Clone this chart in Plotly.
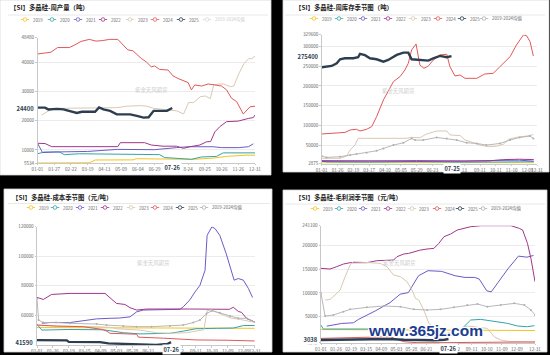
import plotly.graph_objects as go

W, H = 550, 355

SERIES_NAMES = ["2019", "2020", "2021", "2022", "2023", "2024", "2025", "2019-2024均值"]
COLORS = ["#f5c31c", "#35a3a8", "#6d5ac6", "#a0368b", "#d9c8b3", "#e05858", "#2c3e50", "#b0b0b0"]

# ---------------- Top-left: 周产量 ----------------
tl_ticktext = ["01-01", "01-27", "02-22", "03-19", "04-13", "05-09", "06-04", "06-29", "", "8-24", "09-25", "10-26", "11-26", "12-31"]
tl_tickpos = [0, 1, 2, 3, 4, 5, 6, 7, 8, 9, 10, 11, 12, 13]
tl_yticks = [5534, 10000, 20000, 30000, 40000, 48480]

tl_x_2019 = [0, 3.1, 3.45, 5.7, 5.9, 8.5, 9.3, 10.5, 11.3, 12.4, 13]
tl_y_2019 = [5534, 5600, 6560, 6600, 7000, 7000, 6800, 7200, 7800, 8200, 8200]
tl_x_2020 = [0, 0.4, 1.3, 1.6, 2.5, 7.3, 7.6, 8.7, 9.2, 9.8, 10.7, 11.1, 13]
tl_y_2020 = [8700, 9300, 9300, 8400, 8700, 8400, 7400, 7100, 6800, 7600, 7800, 9000, 9000]
tl_x_2021 = [0, 0.3, 1.0, 3.0, 4.8, 6.0, 7.0, 8.3, 9.0, 10.5, 11.0, 12.0, 12.6, 12.9]
tl_y_2021 = [12300, 9100, 9300, 9500, 10200, 10100, 10100, 10800, 11100, 11100, 10800, 10800, 11100, 12100]
tl_x_2022 = [0.0, 0.45, 0.85, 4.8, 4.95, 6.4, 6.8, 7.5, 8.3, 8.73, 9.1, 9.7, 10.1, 10.35, 10.6, 10.9, 11.3, 12.0, 12.6, 12.9, 13.0]
tl_y_2022 = [12300, 12200, 11130, 11130, 12500, 12500, 11700, 11300, 11300, 10560, 11100, 11700, 12800, 12900, 16200, 18000, 19700, 19900, 20800, 21100, 22000]
tl_x_2023 = [0.25, 0.75, 1.2, 3.24, 3.54, 3.94, 4.74, 5.34, 5.74, 6.14, 6.54, 6.94, 7.54, 7.93, 8.33, 8.73, 9.03, 9.33, 9.73, 10.03, 10.33, 10.53, 10.83, 11.13, 11.53, 11.73, 12.03, 12.33, 12.62, 12.82, 13.0]
tl_y_2023 = [21980, 23700, 24270, 24450, 24270, 24500, 24500, 25000, 25200, 25200, 25000, 24270, 23900, 23700, 23400, 22330, 26250, 26250, 28260, 28500, 27600, 32300, 32600, 32600, 31700, 31900, 36100, 39500, 41300, 41300, 42200]
tl_x_2024 = [0, 0.8, 1.2, 1.9, 2.2, 2.6, 3.1, 3.5, 3.9, 4.3, 4.8, 5.4, 5.7, 6.2, 6.5, 6.8, 7.0, 7.3, 7.8, 8.1, 8.4, 8.8, 9.0, 9.2, 9.4, 9.8, 10.2, 10.6, 11.0, 11.3, 11.6, 11.9, 12.3, 12.7, 13.0]
tl_y_2024 = [42900, 43500, 45100, 45100, 45900, 47200, 47900, 47300, 47500, 47900, 47900, 44300, 44000, 41400, 40200, 38500, 38800, 37600, 37400, 35400, 34500, 33400, 33100, 30600, 32300, 31900, 32600, 32300, 31900, 30600, 27700, 26600, 22300, 24800, 25000]
tl_x_2025 = [0, 0.45, 0.65, 1.15, 1.55, 1.95, 2.35, 2.65, 3.14, 3.44, 3.68, 3.94, 4.34, 4.74, 5.14, 5.54, 5.94, 6.34, 6.64, 6.94, 7.34, 7.74, 8.05]
tl_y_2025 = [24500, 24500, 23900, 24100, 23900, 23400, 22700, 23100, 23100, 23100, 24600, 23900, 23400, 22200, 22200, 22200, 21700, 21100, 21200, 23400, 23400, 23400, 24400]

# ---------------- Top-right: 周库存 ----------------
tr_ticktext = ["01-01", "01-26", "02-19", "03-17", "04-10", "05-05", "05-29", "06-23", "", "13", "09-11", "10-11", "11-10", "12-09", "12-31"]
tr_tickpos = [0, 1, 2, 3, 4, 5, 6, 7, 8, 9, 10, 11, 12, 13, 13.6]
tr_yticks = [2875, 50000, 100000, 150000, 200000, 250000, 300000, 329600]

tr_x_2019 = [0, 3, 6, 9, 12, 13.4]
tr_y_2019 = [4500, 5000, 5200, 5000, 4800, 4600]
tr_x_2020 = [0, 0.3, 3, 6, 9, 12, 13.4]
tr_y_2020 = [9500, 7000, 6500, 7500, 6500, 7000, 7500]
tr_x_2021 = [0, 3, 6, 9, 11, 12.5, 13.4]
tr_y_2021 = [10500, 9500, 10500, 9500, 11000, 11500, 9000]
tr_x_2022 = [0, 3, 6, 9, 10.5, 11.5, 12.5, 13.4]
tr_y_2022 = [8500, 9500, 8500, 8000, 9500, 13000, 14000, 13000]
tr_x_2023 = [0, 0.5, 1.16, 1.58, 1.8, 2.1, 2.3, 2.84, 5.37, 5.68, 6.2, 6.63, 7.26, 7.9, 8.1, 8.74, 9.05, 10.0, 10.53, 11.05, 11.47, 11.8, 12.3, 12.95, 13.37]
tr_y_2023 = [16300, 17000, 16300, 22000, 37400, 50100, 67000, 67000, 67000, 69500, 68500, 78000, 85600, 85600, 75500, 74000, 62800, 50100, 45800, 47000, 51800, 64500, 69500, 72900, 76300]
tr_x_2024 = [0, 0.5, 1.16, 1.47, 1.8, 2.2, 2.42, 2.84, 3.16, 3.47, 3.9, 4.2, 4.53, 4.95, 5.26, 5.47, 5.68, 5.96, 6.2, 6.46, 6.74, 7.05, 7.47, 7.9, 8.1, 8.42, 8.74, 9.05, 9.8, 10.3, 10.84, 11.26, 11.9, 12.3, 12.75, 12.95, 13.16, 13.37]
tr_y_2024 = [78000, 79000, 80500, 82000, 88200, 89900, 85600, 89900, 96700, 122000, 164400, 185500, 210900, 223600, 240500, 257400, 291200, 306400, 253200, 244700, 250600, 265800, 278500, 280200, 248800, 225100, 227700, 219200, 219200, 230200, 231900, 248800, 274100, 303700, 329600, 327000, 312200, 276000]
tr_x_2025 = [0, 0.63, 0.95, 1.16, 1.47, 2.0, 2.3, 2.42, 2.73, 3.05, 3.47, 3.9, 4.2, 4.74, 5.16, 5.47, 5.68, 6.2, 6.74, 7.05, 7.47, 7.9, 8.2]
tr_y_2025 = [247200, 250600, 257400, 267500, 270100, 270100, 272600, 281100, 278000, 270100, 267500, 261600, 265800, 278500, 284400, 284400, 267500, 265800, 264100, 270100, 276000, 272600, 275400]
tr_x_avg = [0, 0.3, 1.16, 1.8, 2.2, 2.84, 3.47, 3.9, 4.53, 5.16, 5.68, 5.9, 6.42, 7.26, 7.9, 8.53, 9.16, 9.8, 10.4, 11.26, 11.9, 12.5, 13.16, 13.37]
tr_y_avg = [22000, 18600, 20300, 24500, 27000, 30300, 35400, 41300, 49800, 55700, 66700, 62500, 62500, 69200, 66700, 62500, 55700, 54000, 49800, 54000, 62500, 69200, 72600, 66700]

# ---------------- Bottom-left: 成本 ----------------
bl_ticktext = ["01-01", "01-26", "02-19", "03-15", "04-09", "05-03", "05-28", "06-21", "", "2", "09-11", "10-10", "11-09", "12-09", "12-31"]
bl_tickpos = [0, 1, 2, 3, 4, 5, 6, 7, 8, 9.15, 10, 11, 12, 13, 13.7]
bl_yticks = [60000, 80000, 100000, 120000]

bl_x_2019 = [0, 4.5, 5, 13.7]
bl_y_2019 = [51500, 51500, 51000, 51000]
bl_x_2020 = [0, 0.05, 0.3, 2.0, 4.17, 5.43, 6.48, 7.9, 8.36, 9.2, 10.0, 11.3, 12.35, 13.0, 13.7]
bl_y_2020 = [54000, 53000, 49800, 50200, 50000, 48000, 47200, 47200, 47600, 49100, 50700, 51000, 51200, 52900, 52900]
bl_x_2021 = [0.3, 0.8, 2.07, 2.9, 3.75, 4.6, 5.2, 5.85, 6.27, 6.7, 7.9, 9.0, 9.2, 9.6, 9.94, 10.25, 10.57, 10.7, 11.0, 11.2, 11.5, 11.9, 12.4, 12.66, 12.98, 13.3, 13.56]
bl_y_2021 = [54400, 54900, 54900, 56200, 57400, 57800, 58000, 58800, 62200, 63400, 63900, 63900, 65600, 70100, 75700, 80200, 90400, 114100, 119900, 118700, 114100, 101700, 83700, 84800, 83700, 78000, 71900]
bl_x_2022 = [0, 0.4, 0.92, 2.07, 4.28, 4.7, 5.0, 5.53, 5.85, 6.27, 6.9, 9.6, 12.1, 12.35, 12.66, 12.87, 13.2, 13.5, 13.7]
bl_y_2022 = [72000, 70600, 74000, 74700, 74700, 70600, 67900, 67200, 65000, 63400, 64100, 64100, 63900, 65300, 62500, 61800, 57500, 56300, 55200]
bl_x_2023 = [0, 1.24, 3.75, 4.7, 5.0, 6.48, 7.5, 8.36, 9.4, 10.0, 10.5, 10.7, 11.0, 11.5, 12.2, 12.8, 13.7]
bl_y_2023 = [53200, 52500, 52100, 51600, 50700, 49800, 48000, 47600, 48000, 49100, 50000, 63000, 63500, 61000, 58000, 57000, 55000]
bl_x_2024 = [0, 1.24, 2.9, 4.07, 4.4, 4.6, 6.27, 6.37, 7.95, 9.0, 10.0, 12.0, 13.7]
bl_y_2024 = [53200, 52500, 52100, 50300, 49000, 47600, 47000, 45000, 44300, 43600, 43100, 42900, 42400]
bl_x_2025 = [0, 1.87, 2.0, 3.96, 4.5, 5.5, 6.4, 7.5, 8.2, 8.43]
bl_y_2025 = [43000, 42800, 41800, 41600, 40800, 40500, 39800, 39700, 40300, 41590]
bl_x_avg = [0, 0.1, 0.4, 1.2, 2.07, 3.75, 4.38, 5.43, 6.27, 7.2, 8.36, 9.2, 9.83, 10.25, 10.67, 11.0, 11.5, 12.14, 12.66, 13.2, 13.7]
bl_y_avg = [71300, 56600, 54900, 55000, 54400, 53900, 53200, 52500, 52100, 52100, 52500, 53200, 54900, 56600, 61100, 62900, 61500, 59300, 57800, 57800, 55200]

# ---------------- Bottom-right: 毛利润 ----------------
br_ticktext = ["01-01", "01-26", "02-19", "03-15", "04-09", "05-03", "05-28", "06-21", "", "2", "09-11", "10-10", "11-09", "12-09", "12-31"]
br_tickpos = [0, 1, 2, 3, 4, 5, 6, 7, 8, 9.15, 10, 11, 12, 13, 14.2]
br_yticks = [-5042, 50000, 100000, 150000, 200000, 241100]

br_x_2019 = [0, 5, 10, 14.2]
br_y_2019 = [23000, 22500, 22000, 21000]
br_x_2020 = [0, 0.15, 3.04, 4.38, 5.04, 5.93, 7.49, 8.38, 9.04, 9.49, 9.93, 10.6, 11.49, 12.38, 13.04, 13.7, 14.16]
br_y_2020 = [32500, 24100, 24100, 23400, 20600, 11500, 9400, 9400, 15000, 29000, 43000, 44400, 40900, 36000, 30400, 29000, 31100]
br_x_2021 = [0.38, 1.37, 2.15, 2.48, 3.59, 4.58, 5.25, 5.8, 6.0, 6.47, 7.1, 8.0, 8.9, 9.55, 10.2, 10.5, 11.0, 11.3, 11.75, 12.4, 13.1, 13.66, 14.1]
br_y_2021 = [30100, 35800, 37200, 44200, 61900, 79500, 97200, 100700, 111300, 136000, 146600, 145200, 136000, 132500, 132500, 129000, 104300, 102200, 122000, 150300, 177200, 175000, 178500]
br_x_2022 = [0, 0.6, 1.04, 1.49, 1.93, 3.04, 3.71, 4.38, 4.82, 5.04, 5.49, 5.82, 6.16, 6.6, 7.04, 7.49, 7.82, 8.16, 8.6, 9.04, 9.49, 9.93, 10.6, 12.6, 13.16, 13.38, 13.7, 13.93, 14.2]
br_y_2022 = [151500, 150100, 155000, 160600, 163400, 163400, 167600, 169000, 169000, 176000, 181600, 183000, 186500, 190000, 192100, 193500, 204000, 218000, 223600, 232000, 235500, 239000, 241100, 241100, 235500, 232000, 204000, 172500, 123500]
br_x_2023 = [0.27, 0.6, 0.93, 1.27, 1.6, 1.93, 2.16, 3.04, 3.93, 4.38, 4.82, 5.27, 5.71, 6.04, 6.27, 6.49, 6.82, 7.16, 7.49, 7.93, 8.38, 8.82, 9.27, 9.71, 10.16, 10.6, 11.04, 11.49, 11.93, 12.5, 13.5, 14.2]
br_y_2023 = [85000, 86400, 95500, 106000, 134000, 158500, 165500, 163400, 162000, 155000, 137500, 134000, 123500, 106000, 88500, 85000, 64000, 36000, 25500, 16400, 15000, 18500, 25500, 30400, 29000, 28000, 25500, 8000, 1000, -2000, -3000, -3500]
br_x_2024 = [0, 1.49, 3.04, 4.6, 5.04, 5.49, 6.38, 7.04, 8.5, 10, 12, 14.2]
br_y_2024 = [4500, 5900, 8000, 8000, 2400, -2500, -4600, -5042, -4500, -4000, -3500, -3000]
br_x_2025 = [0, 1.0, 2.0, 3.0, 4.5, 5.5, 6.5, 7.5, 8.2, 8.46]
br_y_2025 = [1000, 1500, 2500, 3000, 3200, 1500, 800, 600, 1500, 3038]
br_x_avg = [0, 0.27, 0.82, 1.49, 1.93, 3.04, 4.16, 5.27, 6.16, 7.04, 7.93, 8.82, 9.71, 10.38, 11.04, 11.93, 12.82, 13.49, 13.93, 14.2]
br_y_avg = [99000, 51400, 53500, 60500, 65400, 69600, 72400, 71000, 65400, 64000, 65400, 69600, 74500, 76600, 71000, 74500, 78000, 74500, 64000, 53500]

TITLES = ["【SI】多晶硅-周产量（吨）", "【SI】多晶硅-周库存季节图（吨）",
          "【SI】多晶硅-成本季节图（元/吨）", "【SI】多晶硅-毛利润季节图（元/吨）"]
POINTER_DATES = ["07-26", "07-25", "07-26", "07-26"]
WATERMARK = "紫金天风期货"

panels = [
    dict(series=[(tl_x_2019, tl_y_2019), (tl_x_2020, tl_y_2020), (tl_x_2021, tl_y_2021), (tl_x_2022, tl_y_2022),
                 (tl_x_2023, tl_y_2023), (tl_x_2024, tl_y_2024), (tl_x_2025, tl_y_2025), None],
         tickpos=tl_tickpos, ticktext=tl_ticktext, yticks=tl_yticks,
         px=(37.5, 255), py=(37.7, 163), xr=(0, 13), yr=(5534, 48480),
         card=(0, 0, 271, 175), title_xy=(8, 8), sep=(8, 15, 268),
         leg_x=[25, 52, 78, 103, 130, 155, 181, 207], leg_y=19.5, avg_off=True,
         wm=(133, 84), xlab_y=167.5),
    dict(series=[(tr_x_2019, tr_y_2019), (tr_x_2020, tr_y_2020), (tr_x_2021, tr_y_2021), (tr_x_2022, tr_y_2022),
                 (tr_x_2023, tr_y_2023), (tr_x_2024, tr_y_2024), (tr_x_2025, tr_y_2025), (tr_x_avg, tr_y_avg)],
         tickpos=tr_tickpos, ticktext=tr_ticktext, yticks=tr_yticks,
         px=(321.7, 537), py=(34.8, 163.6), xr=(0, 13.6), yr=(2875, 329600),
         card=(283, 0, 549, 172), title_xy=(293, 8), sep=(285, 15, 545),
         leg_x=[314, 339, 363, 388, 413, 438, 462, 484], leg_y=18.5, avg_off=False,
         wm=(417, 85), xlab_y=168),
    dict(series=[(bl_x_2019, bl_y_2019), (bl_x_2020, bl_y_2020), (bl_x_2021, bl_y_2021), (bl_x_2022, bl_y_2022),
                 (bl_x_2023, bl_y_2023), (bl_x_2024, bl_y_2024), (bl_x_2025, bl_y_2025), (bl_x_avg, bl_y_avg)],
         tickpos=bl_tickpos, ticktext=bl_ticktext, yticks=bl_yticks,
         px=(37, 254.8), py=(226.7, 345.1), xr=(0, 13.7), yr=(39600, 120000),
         card=(4, 189, 272, 352), title_xy=(10, 197), sep=(8, 203.5, 270),
         leg_x=[31, 55, 80, 105, 131, 155, 180, 204], leg_y=207.5, avg_off=False,
         wm=(135, 269), xlab_y=349),
    dict(series=[(br_x_2019, br_y_2019), (br_x_2020, br_y_2020), (br_x_2021, br_y_2021), (br_x_2022, br_y_2022),
                 (br_x_2023, br_y_2023), (br_x_2024, br_y_2024), (br_x_2025, br_y_2025), (br_x_avg, br_y_avg)],
         tickpos=br_tickpos, ticktext=br_ticktext, yticks=br_yticks,
         px=(321, 535), py=(225.7, 342.9), xr=(0, 14.2), yr=(-5042, 241100),
         card=(283, 190, 547, 352), title_xy=(293, 197.3), sep=(285, 204, 545),
         leg_x=[315, 339, 363, 388, 412, 437, 460, 483], leg_y=208.5, avg_off=False,
         wm=(418, 269), xlab_y=348.5),
]


def fx(px):
    return px / W


def fy(py):
    return 1 - py / H


fig = go.Figure()
shapes, annotations = [], []
layout = {}
FONT = "Noto Sans CJK SC, Liberation Sans, sans-serif"

for i, p in enumerate(panels):
    n = "" if i == 0 else str(i + 1)
    xa, ya = "x" + n, "y" + n
    # cards
    cx0, cy0, cx1, cy1 = p["card"]
    shapes.append(dict(type="rect", xref="paper", yref="paper", x0=fx(cx0), x1=fx(cx1), y0=fy(cy1), y1=fy(cy0),
                       fillcolor="white", line=dict(color="#d6d6d6", width=0.8), layer="below"))
    sx0, sy, sx1 = p["sep"]
    shapes.append(dict(type="line", xref="paper", yref="paper", x0=fx(sx0), x1=fx(sx1), y0=fy(sy), y1=fy(sy),
                       line=dict(color="#e2e2e2", width=0.8), layer="below"))
    tx, ty = p["title_xy"]
    annotations.append(dict(text=TITLES[i], xref="paper", yref="paper", x=fx(tx), y=fy(ty), xanchor="left",
                            yanchor="middle", showarrow=False,
                            font=dict(family=FONT, size=6.4, color="#222", weight="bold")))
    # legend
    for k, name in enumerate(SERIES_NAMES):
        lx, ly = p["leg_x"][k], p["leg_y"]
        off = p["avg_off"] and k == 7
        col = "#d8d8d8" if off else COLORS[k]
        shapes.append(dict(type="line", xref="paper", yref="paper", x0=fx(lx - 4.2), x1=fx(lx + 4.2),
                           y0=fy(ly), y1=fy(ly), line=dict(color=col, width=0.8)))
        shapes.append(dict(type="circle", xref="paper", yref="paper", x0=fx(lx - 1.8), x1=fx(lx + 1.8),
                           y0=fy(ly + 1.8), y1=fy(ly - 1.8), fillcolor="white", line=dict(color=col, width=0.8)))
        annotations.append(dict(text=name, xref="paper", yref="paper", x=fx(lx + 5.5), y=fy(ly),
                                xanchor="left", yanchor="middle", showarrow=False,
                                font=dict(family=FONT, size=4.4, color="#cccccc" if off else "#666")))
    # watermark
    wx, wy = p["wm"]
    annotations.append(dict(text=WATERMARK, xref="paper", yref="paper", x=fx(wx), y=fy(wy), showarrow=False,
                            font=dict(family=FONT, size=5.4, color="#cfcfcf")))
    # axes
    layout["xaxis" + n] = dict(domain=[fx(p["px"][0]), fx(p["px"][1])], anchor=ya, range=list(p["xr"]),
                               automargin=False, tickmode="array", tickvals=p["tickpos"], ticktext=p["ticktext"],
                               showgrid=False, zeroline=False, showline=True, linecolor="#c8c8c8", linewidth=0.8,
                               ticks="outside", ticklen=1.5, tickcolor="#c8c8c8", tickwidth=0.6,
                               tickfont=dict(family=FONT, size=4.6, color="#666"), tickangle=0)
    layout["yaxis" + n] = dict(domain=[fy(p["py"][1]), fy(p["py"][0])], anchor=xa, range=list(p["yr"]),
                               automargin=False, tickmode="array", tickvals=p["yticks"],
                               ticktext=[str(v) for v in p["yticks"]],
                               showgrid=True, gridcolor="#ececec", gridwidth=0.6, zeroline=False,
                               showline=True, linecolor="#c8c8c8", linewidth=0.8,
                               ticks="outside", ticklen=1.5, tickcolor="#c8c8c8", tickwidth=0.6,
                               tickfont=dict(family=FONT, size=4.6, color="#666"))
    # traces (avg drawn before 2025 so 2025 sits on top)
    order = [0, 1, 2, 3, 4, 5, 7, 6]
    for k in order:
        s = p["series"][k]
        if s is None:
            continue
        xs, ys = s
        if k == 7:
            fig.add_trace(go.Scatter(x=xs, y=ys, mode="lines+markers", xaxis=xa, yaxis=ya, showlegend=False,
                                     hoverinfo="skip", line=dict(color=COLORS[k], width=0.9),
                                     marker=dict(size=2, color=COLORS[k])))
        else:
            fig.add_trace(go.Scatter(x=xs, y=ys, mode="lines", xaxis=xa, yaxis=ya, showlegend=False,
                                     hoverinfo="skip",
                                     line=dict(color=COLORS[k], width=2.4 if k == 6 else 1.0)))
    # pointer labels from the 2025 series
    x25, y25 = p["series"][6]
    annotations.append(dict(text=str(y25[-1]), xref="paper", yref=ya, x=fx(p["px"][0] - 2), y=y25[-1],
                            xanchor="right", yanchor="middle", showarrow=False, bgcolor="white", borderpad=0.5,
                            font=dict(family=FONT, size=5.8, color="#2c3e50", weight="bold")))
    annotations.append(dict(text=POINTER_DATES[i], xref=xa, yref="paper", x=x25[-1], y=fy(p["xlab_y"]),
                            xanchor="center", yanchor="middle", showarrow=False, bgcolor="white", borderpad=0.5,
                            font=dict(family=FONT, size=5.6, color="#2c3e50", weight="bold")))

annotations.append(dict(text="www.365jz.com", xref="paper", yref="paper", x=fx(485), y=fy(341), showarrow=False,
                        font=dict(family="Liberation Sans, Arial, sans-serif", size=15.5, color="#1b3d8f",
                                  weight="bold",
                                  shadow="1px 1px 0 #fff, -1px -1px 0 #fff, 1px -1px 0 #fff, -1px 1px 0 #fff")))

fig.update_layout(template="none", width=W, height=H, margin=dict(l=0, r=0, t=0, b=0, pad=0),
                  paper_bgcolor="#000000", plot_bgcolor="rgba(0,0,0,0)", shapes=shapes,
                  annotations=annotations, showlegend=False, **layout)
fig.write_html("out.html", config={"displayModeBar": False},
               post_script="document.body.style.margin='0';document.body.style.padding='0';"
                           "document.body.style.overflow='hidden';document.body.style.background='#000';")
